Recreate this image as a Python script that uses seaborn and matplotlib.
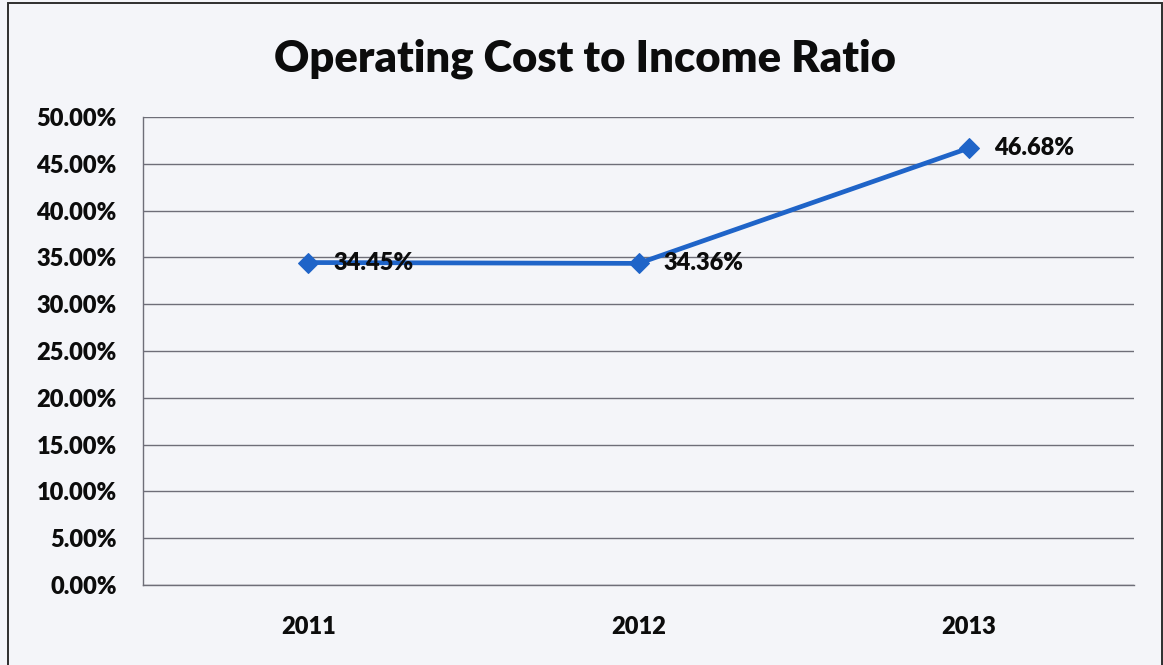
import matplotlib
matplotlib.use("Agg")
import matplotlib.pyplot as plt
import seaborn as sns
import pandas as pd
from matplotlib.patches import Rectangle
from matplotlib.ticker import FixedLocator

years = ["2011", "2012", "2013"]
ratio_pct = [34.45, 34.36, 46.68]
y_ticks = [0, 5, 10, 15, 20, 25, 30, 35, 40, 45, 50]
title_text = "Operating Cost to Income Ratio"

sns.set_theme(style="white")
plt.rcParams["font.family"] = ["Lato", "DejaVu Sans"]
plt.rcParams["font.weight"] = "bold"

BG = "#f4f5f9"
GRID = "#6e6e78"
BLUE = "#1f64c8"
INK = "#0c0c0c"
LABEL_SIZE = 17

df = pd.DataFrame({"year": years, "ratio": ratio_pct})

fig = plt.figure(figsize=(11.63, 6.65), dpi=100, facecolor=BG)
ax = fig.add_axes([143 / 1163, 80 / 665, (1134 - 143) / 1163, (585 - 117) / 665])
ax.set_facecolor(BG)

sns.lineplot(data=df, x="year", y="ratio", ax=ax, color=BLUE, linewidth=3.4,
             marker="D", markersize=10, markeredgecolor=BLUE, zorder=3)

ax.set_xlim(-0.5, 2.5)
ax.set_ylim(0, 50)
ax.set_yticks(y_ticks)
ax.set_yticklabels([f"{t:.2f}%" for t in y_ticks], fontsize=LABEL_SIZE,
                   fontweight="heavy", color=INK)
ax.set_xticks(range(len(years)))
ax.set_xticklabels(years, fontsize=LABEL_SIZE, fontweight="heavy", color=INK)
ax.xaxis.set_minor_locator(FixedLocator([-0.5, 0.5, 1.5, 2.5]))
ax.tick_params(axis="x", which="major", length=0, pad=22)
ax.tick_params(axis="x", which="minor", length=6, width=1, color=GRID, direction="out")
ax.tick_params(axis="y", which="major", length=7, width=1, color=GRID, direction="out", pad=12)
ax.yaxis.grid(True, color=GRID, linewidth=1)
ax.set_axisbelow(True)
ax.set_xlabel("")
ax.set_ylabel("")

for side in ["top", "right"]:
    ax.spines[side].set_visible(False)
for side in ["left", "bottom"]:
    ax.spines[side].set_color(GRID)
    ax.spines[side].set_linewidth(1)

for i, v in enumerate(ratio_pct):
    ax.annotate(f"{v:.2f}%", xy=(i, v), xytext=(18, 0), textcoords="offset points",
                ha="left", va="center", fontsize=LABEL_SIZE, fontweight="heavy",
                color=INK, zorder=4)

fig.text(585 / 1163, 1 - 59 / 665, title_text, ha="center", va="center",
         fontsize=31.3, fontweight="heavy", color=INK)

fig.patches.append(Rectangle((8 / 1163, -0.02), (1162 - 8) / 1163, 1.02 - 3 / 665,
                             transform=fig.transFigure, fill=False,
                             edgecolor="#2e2e2e", linewidth=1.4))

fig.savefig("out.png", dpi=100, facecolor=BG)
